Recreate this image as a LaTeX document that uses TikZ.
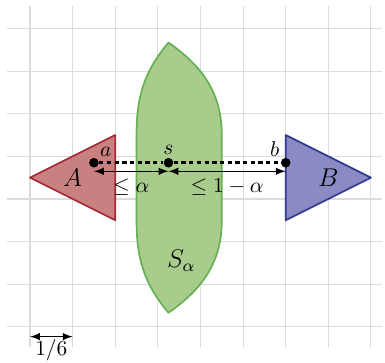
\documentclass[tikz,border=0pt]{standalone}
\usepackage{amsmath,amssymb}
\usepackage{tikz}
\definecolor{afill}{RGB}{201,128,128}
\definecolor{aline}{RGB}{165,42,52}
\definecolor{bfill}{RGB}{138,138,196}
\definecolor{bline}{RGB}{48,58,145}
\definecolor{sfill}{RGB}{168,204,140}
\definecolor{sline}{RGB}{104,176,84}

\begin{document}
\begin{tikzpicture}[
  x=0.7cm, y=0.7cm,
  gridline/.style={gray!28, line width=0.5pt},
  setA/.style={draw=aline, fill=afill, thick, line join=round},
  setB/.style={draw=bline, fill=bfill, thick, line join=round},
  setS/.style={draw=sline, fill=sfill, thick, line join=round},
  pt/.style={circle, fill=black, inner sep=0pt, minimum size=4.5pt},
  gap/.style={very thick, dash pattern=on 2pt off 1.6pt},
  dist/.style={<->, >=latex, semithick},
]
\useasboundingbox (-0.704,-0.829) rectangle (8.33,7.669);
% Grid, one cell is 1/6
\foreach \x in {0,...,8}
  \draw[gridline] (\x,-0.48) -- (\x,7.53);
\foreach \y in {0,...,7}
  \draw[gridline] (-0.53,\y) -- (8.26,\y);

% Sets A, B and the separator
\draw[setA] (0,3.5) -- (2,4.5) -- (2,2.5) -- cycle;
\draw[setB] (6,4.5) -- (8,3.5) -- (6,2.5) -- cycle;
\draw[setS] (2.5,2.5) -- (2.5,4.5) to[out=90,in=230] (3.25,6.67)
  to[out=-35,in=90] (4.5,4.5) -- (4.5,2.5)
  to[out=-90,in=35] (3.25,0.33) to[out=130,in=-90] cycle;
\node[font=\large] (lA) at (1.0,3.5) {$A$};
\node[font=\large] (lB) at (7.0,3.5) {$B$};
\node[font=\large] (lS) at (3.55,1.55) {$S_\alpha$};

% Points a, s, b
\node[pt, label={[inner sep=1pt]above right:$a$}] (a) at (1.5,3.85) {};
\node[pt, label={[inner sep=1pt]above:$s$}] (s) at (3.25,3.85) {};
\node[pt, label={[inner sep=1pt]above left:$b$}] (b) at (6,3.85) {};
\draw[gap] (a) -- (s);
\draw[gap] (s) -- (b);

% Distances
\coordinate (a') at (1.5,3.65);
\coordinate (s') at (3.25,3.65);
\coordinate (b') at (6,3.65);
\draw[dist] (a') -- node[below] {$\leq\alpha$} (s');
\draw[dist] (s') -- node[below] {$\leq 1-\alpha$} (b');

% Scale
\coordinate (u0) at (0,-0.23);
\coordinate (u1) at (1,-0.23);
\draw[dist] (u0) -- node[below, inner sep=1pt] {$1/6$} (u1);
\end{tikzpicture}
\end{document}
